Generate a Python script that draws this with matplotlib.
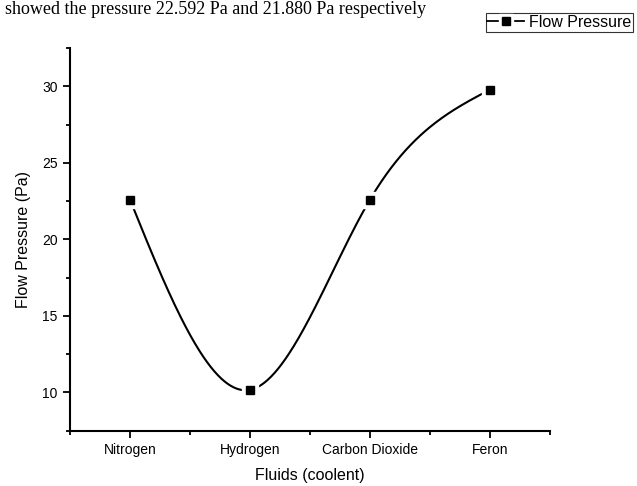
import numpy as np
import matplotlib
matplotlib.use("Agg")
import matplotlib.pyplot as plt
from matplotlib.ticker import MultipleLocator, FixedLocator
from matplotlib.lines import Line2D

fluids = ["Nitrogen", "Hydrogen", "Carbon Dioxide", "Feron"]
pressure = [22.592, 10.17, 22.6, 29.78]


def natural_spline(x, y, n=300):
    x = np.asarray(x, float)
    y = np.asarray(y, float)
    k = len(x)
    h = np.diff(x)
    a = np.zeros((k, k))
    b = np.zeros(k)
    a[0, 0] = a[-1, -1] = 1
    for i in range(1, k - 1):
        a[i, i - 1] = h[i - 1]
        a[i, i] = 2 * (h[i - 1] + h[i])
        a[i, i + 1] = h[i]
        b[i] = 6 * ((y[i + 1] - y[i]) / h[i] - (y[i] - y[i - 1]) / h[i - 1])
    m = np.linalg.solve(a, b)
    xs = np.linspace(x[0], x[-1], n)
    ys = np.empty_like(xs)
    for j, t in enumerate(xs):
        i = min(np.searchsorted(x, t, side="right") - 1, k - 2)
        d0 = x[i + 1] - t
        d1 = t - x[i]
        ys[j] = (m[i] * d0 ** 3 + m[i + 1] * d1 ** 3) / (6 * h[i]) \
            + (y[i] / h[i] - m[i] * h[i] / 6) * d0 \
            + (y[i + 1] / h[i] - m[i + 1] * h[i] / 6) * d1
    return xs, ys


plt.rcParams["font.family"] = ["Liberation Sans", "DejaVu Sans"]

fig = plt.figure(figsize=(6.37, 4.86), dpi=100)
ax = fig.add_axes([0.1099, 0.1138, 0.7535, 0.7874])

xpos = np.arange(1, len(fluids) + 1)
xs, ys = natural_spline(xpos, pressure)
ax.plot(xs, ys, color="black", lw=1.5, zorder=2)
# white halo so the curve stops short of each marker
ax.plot(xpos, pressure, ls="none", marker="s", ms=12, color="white", zorder=3)
ax.plot(xpos, pressure, ls="none", marker="s", ms=5.5, color="black", zorder=4)

ax.set_xlim(0.5, 4.5)
ax.set_ylim(7.5, 32.5)
ax.set_xticks(xpos)
ax.set_xticklabels(fluids)
ax.xaxis.set_minor_locator(FixedLocator([0.5, 1.5, 2.5, 3.5, 4.5]))
ax.yaxis.set_major_locator(MultipleLocator(5))
ax.yaxis.set_minor_locator(MultipleLocator(2.5))

for side in ("top", "right"):
    ax.spines[side].set_visible(False)
for side in ("left", "bottom"):
    ax.spines[side].set_linewidth(1.5)
ax.tick_params(which="major", direction="out", length=5, width=1.3, labelsize=10, pad=4)
ax.tick_params(which="minor", direction="out", length=3, width=1.3)

ax.set_xlabel("Fluids (coolent)", fontsize=11.5, labelpad=8)
ax.set_ylabel("Flow Pressure (Pa)", fontsize=11.5, labelpad=8)

line_h = Line2D([], [], color="black", lw=1.3)
halo_h = Line2D([], [], ls="none", marker="s", ms=10, color="white")
mark_h = Line2D([], [], ls="none", marker="s", ms=5.5, color="black")
leg = fig.legend([(line_h, halo_h, mark_h)], ["Flow Pressure"], loc="upper right",
                 bbox_to_anchor=(0.994, 0.973), fontsize=11.5, frameon=True,
                 fancybox=False, edgecolor="black", borderpad=0.12,
                 handlelength=2.3, handletextpad=0.3, borderaxespad=0)
leg.get_frame().set_linewidth(0.8)

fig.text(0.008, 0.972, "showed the pressure 22.592 Pa and 21.880 Pa respectively",
         family="Liberation Serif", fontsize=13, va="baseline", ha="left")

fig.savefig("out.png", dpi=100)
